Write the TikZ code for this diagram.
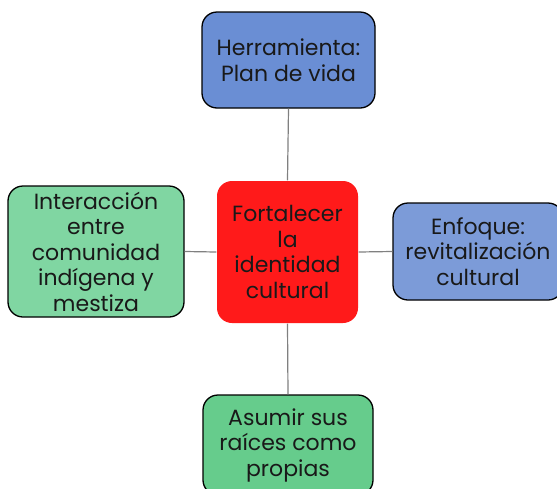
\documentclass[tikz,border=0pt]{standalone}
\usepackage{fontspec}
\setmainfont{Poppins}
\definecolor{topblue}{HTML}{6A8ED4}
\definecolor{rightblue}{HTML}{7C9BD8}
\definecolor{leftgreen}{HTML}{80D6A2}
\definecolor{botgreen}{HTML}{66CC8C}
\definecolor{centerred}{HTML}{FF1A1A}
\definecolor{linegray}{HTML}{808080}
\begin{document}
\begin{tikzpicture}[x=1pt,y=-1pt,
  box/.style={draw=black,line width=1.3pt,rounded corners=15pt,inner sep=0pt,align=center,
    font=\fontsize{22}{25.5}\selectfont,text=black!90},
  conn/.style={draw=linegray,line width=1.2pt}]
\useasboundingbox (0,0) rectangle (557,488);
\clip (0,0) rectangle (557,488);
\node[box,fill=centerred,draw=none,minimum width=141pt,minimum height=142pt] (c) at (287.5,252) {Fortalecer\\la\\identidad\\cultural};
\node[box,fill=topblue,minimum width=173pt,minimum height=96pt] (t) at (288.5,60) {Herramienta:\\Plan de vida};
\node[box,fill=leftgreen,minimum width=176pt,minimum height=131pt] (l) at (96,251.5) {Interacción\\entre\\comunidad\\indígena y\\mestiza};
\node[box,fill=rightblue,minimum width=170pt,minimum height=97pt] (r) at (478,251.5) {Enfoque:\\revitalización\\cultural};
\node[box,fill=botgreen,minimum width=170pt,minimum height=100pt] (b) at (288,445) {Asumir sus\\raíces como\\propias};
\draw[conn] (t.south) -- (c.north);
\draw[conn] (c.south) -- (b.north);
\draw[conn] (l.east) -- (c.west);
\draw[conn] (c.east) -- (r.west);
\end{tikzpicture}
\end{document}
